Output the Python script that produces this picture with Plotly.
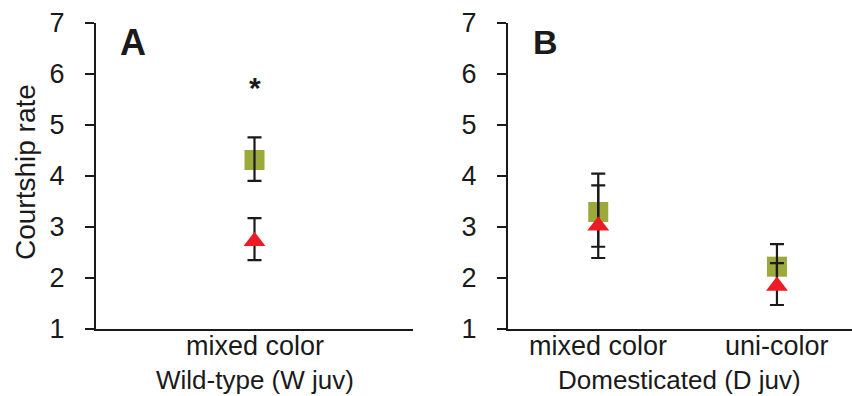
import plotly.graph_objects as go

# ---- data ----
cats_A = ["mixed color"]
sq_A = [4.31]
sq_A_up = [0.44]
sq_A_dn = [0.41]
tri_A = [2.72]
tri_A_up = [0.45]
tri_A_dn = [0.37]

cats_B = ["mixed color", "uni-color"]
sq_B = [3.29, 2.22]
sq_B_up = [0.75, 0.44]
sq_B_dn = [0.68, 0.39]
tri_B = [3.02, 1.84]
tri_B_up = [0.79, 0.45]
tri_B_dn = [0.63, 0.37]

y_ticks = [1, 2, 3, 4, 5, 6, 7]
star_A = 5.72

# ---- style ----
W, H = 852, 396
GREEN = "#9BAA3A"
RED = "#ED1C24"
INK = "#1a1a1a"
FONT = "Liberation Sans, Arial, sans-serif"
FS = 27

def px_x(p):
    return p / W

def px_y(p):
    return 1 - p / H

yb, yt = px_y(329), px_y(22.5)
domA = [px_x(96), px_x(413)]
domB = [px_x(508), px_x(852)]

fig = go.Figure()

def add_panel(xs, sq, sq_u, sq_d, tri, tri_u, tri_d, xa, ya):
    err = dict(type="data", visible=True, symmetric=False, thickness=2.2, width=7, color=INK)
    fig.add_trace(go.Scatter(x=xs, y=sq, mode="markers", xaxis=xa, yaxis=ya,
                             marker=dict(symbol="square", size=20, color=GREEN),
                             showlegend=False, hoverinfo="skip"))
    fig.add_trace(go.Scatter(x=xs, y=sq, mode="markers", xaxis=xa, yaxis=ya,
                             marker=dict(size=1, color="rgba(0,0,0,0)"),
                             error_y=dict(array=sq_u, arrayminus=sq_d, **err),
                             showlegend=False, hoverinfo="skip"))
    fig.add_trace(go.Scatter(x=xs, y=tri, mode="markers", xaxis=xa, yaxis=ya,
                             marker=dict(symbol="triangle-up", size=19, color=RED),
                             error_y=dict(array=tri_u, arrayminus=tri_d, **err),
                             showlegend=False, hoverinfo="skip"))

add_panel(list(range(len(cats_A))), sq_A, sq_A_up, sq_A_dn, tri_A, tri_A_up, tri_A_dn, "x", "y")
add_panel(list(range(len(cats_B))), sq_B, sq_B_up, sq_B_dn, tri_B, tri_B_up, tri_B_dn, "x2", "y2")

yaxis_common = dict(range=[1, 7], tickvals=y_ticks, ticks="outside", ticklen=9,
                    tickwidth=2, tickcolor=INK, showline=True, linewidth=2,
                    linecolor=INK, showgrid=False, zeroline=False, automargin=False,
                    tickfont=dict(family=FONT, size=27, color=INK),
                    ticklabelstandoff=15)
xaxis_common = dict(showline=True, linewidth=2, linecolor=INK, showgrid=False,
                    zeroline=False, ticks="", automargin=False, showticklabels=False)

fig.update_layout(
    width=W, height=H,
    margin=dict(l=0, r=0, t=0, b=0, autoexpand=False),
    paper_bgcolor="white", plot_bgcolor="white",
    xaxis=dict(domain=domA, range=[-0.5, 0.5], anchor="y", **xaxis_common),
    yaxis=dict(domain=[yb, yt], anchor="x", **yaxis_common),
    xaxis2=dict(domain=domB, range=[-0.505, 1.42], anchor="y2", **xaxis_common),
    yaxis2=dict(domain=[yb, yt], anchor="x2", **yaxis_common),
)

# x-axis line extends left past the y axis
for xr, yr, dw in [("x domain", "y", 413 - 96), ("x2 domain", "y2", 852 - 508)]:
    fig.add_shape(type="line", xref=xr, yref=yr, x0=-9 / dw, x1=0, y0=1, y1=1,
                  line=dict(color=INK, width=2))

c = dict(xanchor="center", yanchor="middle", showarrow=False)
ann = []
# category labels under the x axis
for cats, xr, yr in [(cats_A, "x", "y"), (cats_B, "x2", "y2")]:
    for i, lab in enumerate(cats):
        ann.append(dict(text=lab, x=i, y=1, xref=xr, yref=yr, xanchor="center",
                        yanchor="top", showarrow=False, borderpad=0, yshift=-1,
                        font=dict(family=FONT, size=FS, color=INK)))
ann.append(dict(text="<b>A</b>", x=px_x(133), y=px_y(42), xref="paper", yref="paper",
                font=dict(family=FONT, size=36, color=INK), **c))
ann.append(dict(text="<b>B</b>", x=px_x(545), y=px_y(42), xref="paper", yref="paper",
                font=dict(family=FONT, size=34, color=INK), **c))
ann.append(dict(text="<b>*</b>", x=0, y=star_A, xref="x", yref="y",
                font=dict(family=FONT, size=30, color=INK), **c))
ann.append(dict(text="Courtship rate", x=px_x(25), y=px_y(172), xref="paper", yref="paper",
                textangle=-90, font=dict(family=FONT, size=28, color=INK), **c))
b = dict(xanchor="center", yanchor="bottom", showarrow=False, borderpad=0)
ann.append(dict(text="Wild-type (W juv)", x=(domA[0] + domA[1]) / 2, y=0,
                xref="paper", yref="paper",
                font=dict(family=FONT, size=26, color=INK), **b))
ann.append(dict(text="Domesticated (D juv)", x=px_x(679), y=0,
                xref="paper", yref="paper",
                font=dict(family=FONT, size=26, color=INK), **b))
fig.update_layout(annotations=ann)

fig.write_html("out.html")
